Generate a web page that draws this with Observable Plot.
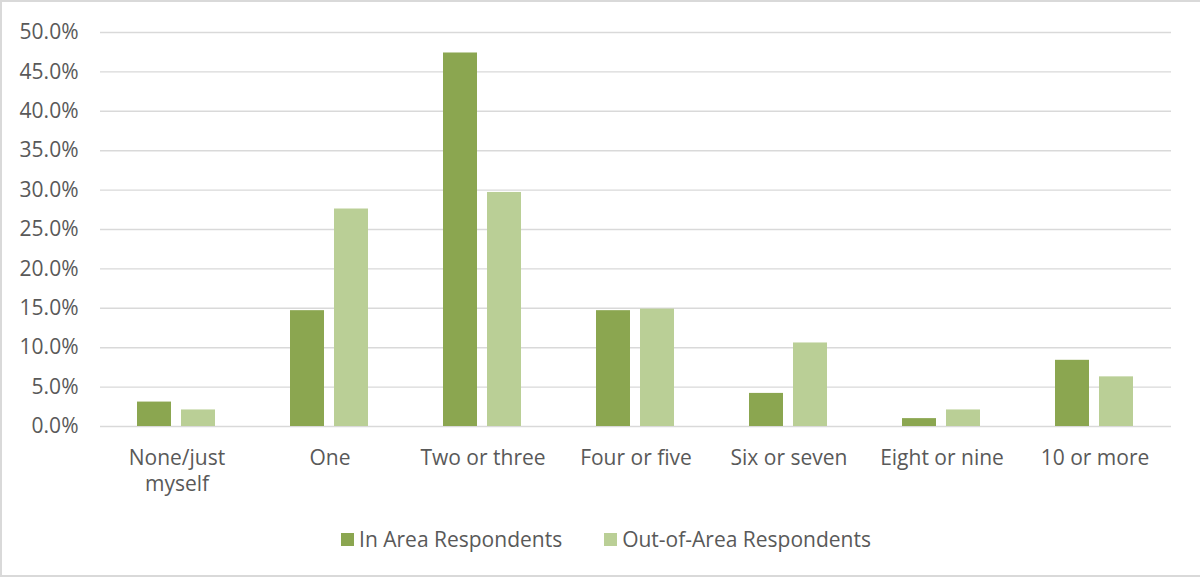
<!DOCTYPE html>
<html>
<head>
<meta charset="utf-8">
<script src="https://cdn.jsdelivr.net/npm/d3@7"></script>
<script src="https://cdn.jsdelivr.net/npm/@observablehq/plot@0.6"></script>
<style>
  html, body { margin: 0; padding: 0; background: #fff; }
  #wrap { position: relative; width: 1200px; height: 578px; overflow: hidden; font-family: "Open Sans", sans-serif; }
  #frame { position: absolute; left: 0; top: 0; width: 1200px; height: 577px; box-sizing: border-box;
           border-left: 2px solid #d9d9d9; border-top: 2px solid #d9d9d9; border-bottom: 2px solid #d9d9d9; pointer-events: none; }
  #legend { display: flex; justify-content: center; align-items: center; gap: 42px; padding-left: 12px;
            height: 78px; color: #595959; font-size: 21px; }
  #legend .item { display: flex; align-items: center; gap: 5px; }
  #legend .sw { width: 13px; height: 13px; display: inline-block; }
</style>
</head>
<body>
<div id="wrap">
  <div id="chart"></div>
  <div id="legend"></div>
  <div id="frame"></div>
</div>
<script>
// Number of close contacts reported, share of respondents (%)
const categories = ["None/just myself", "One", "Two or three", "Four or five", "Six or seven", "Eight or nine", "10 or more"];
const series = ["In Area Respondents", "Out-of-Area Respondents"];
const inArea = [3.1, 14.7, 47.4, 14.7, 4.2, 1.0, 8.4];
const outOfArea = [2.1, 27.6, 29.7, 14.9, 10.6, 2.1, 6.3];
const yTicks = [0, 5, 10, 15, 20, 25, 30, 35, 40, 45, 50];
const colors = ["#8ba650", "#bacf96"];

const rows = categories.flatMap((c, i) => [
  {category: c, series: series[0], value: inArea[i]},
  {category: c, series: series[1], value: outOfArea[i]}
]);

const wrapLabel = (c) => c === "None/just myself" ? "None/just\nmyself" : c;

const chart = Plot.plot({
  width: 1200,
  height: 500,
  marginLeft: 100,
  marginRight: 29,
  marginTop: 32,
  marginBottom: 74,
  style: {fontFamily: "Open Sans, sans-serif", fontSize: "21px", color: "#595959", background: "#fff"},
  fx: {domain: categories, padding: 0, label: null},
  x: {domain: series, axis: null, paddingInner: 0.227, paddingOuter: 0.852},
  y: {domain: [0, 50], axis: null},
  color: {domain: series, range: colors},
  marks: [
    Plot.gridY(yTicks, {stroke: "#d9d9d9", strokeOpacity: 1, strokeWidth: 1.4}),
    Plot.barY(rows, {fx: "category", x: "series", y: "value", fill: "series"}),
    Plot.axisY(yTicks, {
      tickSize: 0, tickPadding: 22, fill: "#595959", fontSize: 21,
      tickFormat: (d) => d.toFixed(1) + "%", label: null
    }),
    Plot.axisFx({
      anchor: "bottom", tickSize: 0, tickPadding: 21, fill: "#595959", fontSize: 21,
      lineHeight: 1.2, tickFormat: wrapLabel, label: null
    })
  ]
});
document.getElementById("chart").appendChild(chart);

// Legend built from the same series and colours
const legend = d3.select("#legend");
series.forEach((s, i) => {
  const item = legend.append("div").attr("class", "item");
  item.append("span").attr("class", "sw").style("background", colors[i]);
  item.append("span").text(s);
});
</script>
</body>
</html>
